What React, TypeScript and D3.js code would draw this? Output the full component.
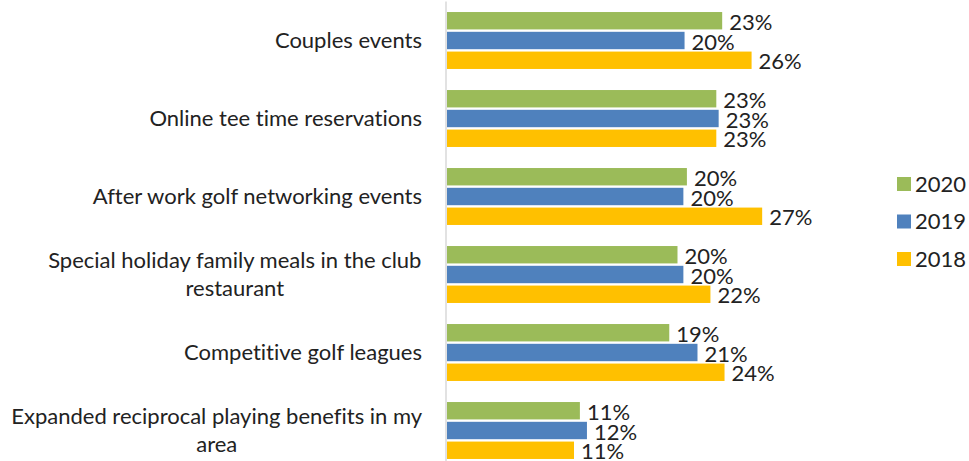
import React, { useMemo } from "react";
import * as d3 from "d3";

const categories = [
  "Couples events",
  "Online tee time reservations",
  "After work golf networking events",
  "Special holiday family meals in the club restaurant",
  "Competitive golf leagues",
  "Expanded reciprocal playing benefits in my area",
];
const seriesNames = ["2020", "2019", "2018"];
const values2020 = [23.4, 22.9, 20.4, 19.6, 18.9, 11.3];
const values2019 = [20.2, 23.1, 20.1, 20.1, 21.3, 11.9];
const values2018 = [25.9, 22.9, 26.8, 22.4, 23.6, 10.8];
const seriesColors = ["#9BBB59", "#4F81BD", "#FFC000"];
const xDomainMax = 30;

const W = 969;
const H = 461;
const FONT = "Lato, 'Open Sans', sans-serif";
const FS = 22;
const TEXT = "#222222";

function measure(text: string, size: number): number {
  const c = document.createElement("canvas");
  const ctx = c.getContext("2d")!;
  ctx.font = `${size}px ${FONT}`;
  return ctx.measureText(text).width;
}

function wrap(text: string, maxW: number, size: number): string[] {
  const words = text.split(" ");
  const lines: string[] = [];
  let cur = "";
  for (const w of words) {
    const t = cur ? cur + " " + w : w;
    if (measure(t, size) > maxW && cur) {
      lines.push(cur);
      cur = w;
    } else cur = t;
  }
  if (cur) lines.push(cur);
  return lines;
}

export default function App() {
  const allValues = [values2020, values2019, values2018];
  const x = d3.scaleLinear().domain([0, xDomainMax]).range([447, 447 + xDomainMax * 11.76]);
  const y = d3
    .scaleBand<string>()
    .domain(categories)
    .range([1.5, 469.5])
    .paddingInner(0.27)
    .paddingOuter(0.135);
  const ys = d3
    .scaleBand<string>()
    .domain(seriesNames)
    .range([0, y.bandwidth()])
    .paddingInner(0.12);

  const wrapped = useMemo(() => categories.map((c) => wrap(c, 430, FS)), []);
  const labelRight = 422;
  const lineH = 27.5;

  const legendY = d3.scalePoint<string>().domain(seriesNames).range([184, 259]);

  return (
    <svg
      width={W}
      height={H}
      style={{ position: "absolute", left: 0, top: 0, background: "#fff", fontVariantLigatures: "none" }}
      fontFamily={FONT}
    >
      <rect width={W} height={H} fill="#fff" />
      {categories.map((cat, ci) => {
        const g0 = y(cat)!;
        const lines = wrapped[ci];
        const cy = g0 + y.bandwidth() / 2;
        const maxW = Math.max(...lines.map((l) => measure(l, FS)));
        const multi = lines.length > 1;
        const tx = multi ? labelRight - maxW / 2 : labelRight;
        return (
          <g key={cat}>
            {lines.map((l, li) => (
              <text
                key={li}
                x={tx}
                y={cy + (li - (lines.length - 1) / 2) * lineH}
                dy="0.35em"
                textAnchor={multi ? "middle" : "end"}
                fontSize={FS}
                fill={TEXT}
              >
                {l}
              </text>
            ))}
            {seriesNames.map((s, si) => {
              const v = allValues[si][ci];
              const by = g0 + ys(s)!;
              return (
                <g key={s}>
                  <rect
                    x={x(0)}
                    y={by}
                    width={x(v) - x(0)}
                    height={ys.bandwidth()}
                    fill={seriesColors[si]}
                  />
                  <text
                    x={x(v) + 7}
                    y={by + ys.bandwidth() / 2 + 1.5}
                    dy="0.35em"
                    fontSize={FS}
                    fill={TEXT}
                  >
                    {Math.round(v) + "%"}
                  </text>
                </g>
              );
            })}
          </g>
        );
      })}
      <line x1={446} x2={446} y1={1.5} y2={H} stroke="#D9D9D9" strokeWidth={1.5} />
      {seriesNames.map((s, si) => (
        <g key={s} transform={`translate(897, ${legendY(s)})`}>
          <rect x={0} y={-7} width={14} height={14} fill={seriesColors[si]} />
          <text x={18} y={0} dy="0.35em" fontSize={FS} fill={TEXT}>
            {s}
          </text>
        </g>
      ))}
    </svg>
  );
}
